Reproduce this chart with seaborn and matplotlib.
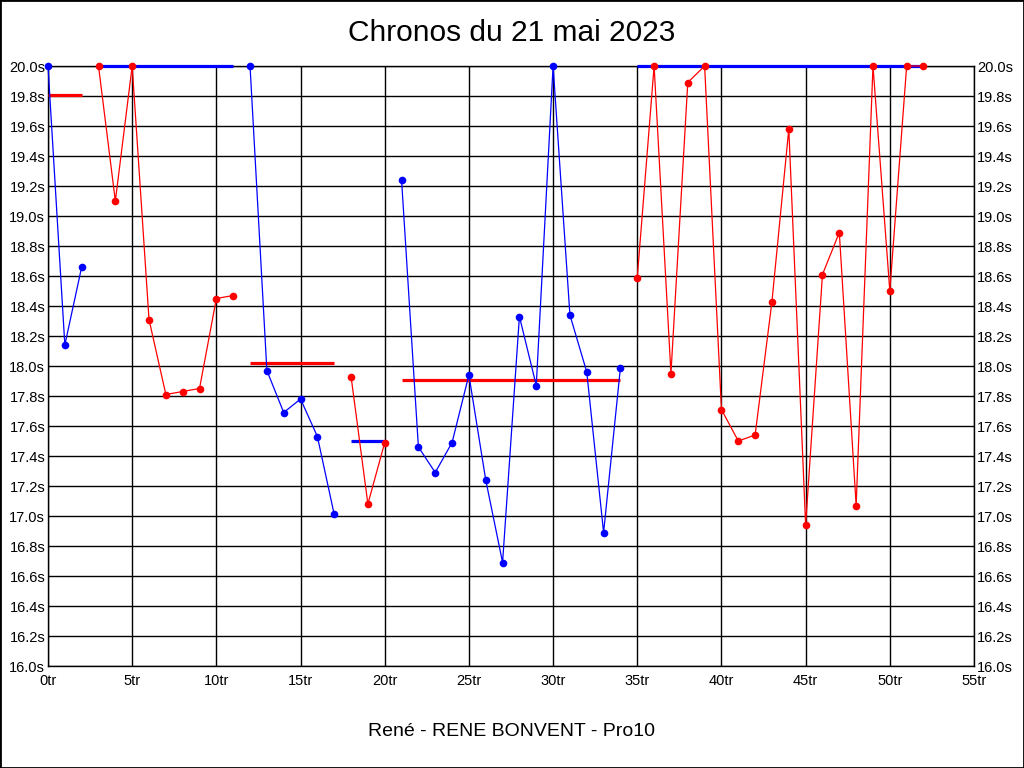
import matplotlib
matplotlib.use("Agg")
import matplotlib.pyplot as plt
from matplotlib.patches import Rectangle
import seaborn as sns
import pandas as pd
import numpy as np

# ---- data ----
laps = list(range(53))
times = [20.00, 18.14, 18.66,
         20.00, 19.10, 20.00, 18.31, 17.81, 17.83, 17.85, 18.45, 18.47,
         20.00, 17.97, 17.69, 17.78, 17.53, 17.01,
         17.93, 17.08, 17.49,
         19.24, 17.46, 17.29, 17.49, 17.94, 17.24, 16.69, 18.33, 17.87, 20.00,
         18.34, 17.96, 16.89, 17.99,
         18.59, 20.00, 17.95, 19.89, 20.00, 17.71, 17.50, 17.54, 18.43, 19.58,
         16.94, 18.61, 18.89, 17.07, 20.00, 18.50, 20.00, 20.00]
seg_start = [0, 3, 12, 18, 21, 35]
seg_end = [2, 11, 17, 20, 34, 52]
seg_color = ["blue", "red", "blue", "red", "blue", "red"]
ref_value = [19.81, 20.00, 18.02, 17.50, 17.91, 20.00]
ref_color = ["red", "blue", "red", "blue", "red", "blue"]

x_ticks = list(range(0, 56, 5))
x_ticklabels = [f"{v}tr" for v in x_ticks]
y_ticks = [round(16.0 + 0.2 * i, 1) for i in range(21)]
y_ticklabels = [f"{v:.1f}s" for v in y_ticks]

title = "Chronos du 21 mai 2023"
xlabel = "René - RENE BONVENT - Pro10"

# ---- build frame ----
seg_id = []
for lap in laps:
    for i, (s, e) in enumerate(zip(seg_start, seg_end)):
        if s <= lap <= e:
            seg_id.append(i)
            break
df = pd.DataFrame({"lap": laps, "time": times, "seg": seg_id})
palette = {i: c for i, c in enumerate(seg_color)}

sns.set_theme(style="white")
plt.rcParams["font.family"] = ["Liberation Sans", "DejaVu Sans"]

fig = plt.figure(figsize=(10.24, 7.68), dpi=100)
ax = fig.add_axes([48 / 1024, 1 - 666 / 768, 926 / 1024, 600 / 768])

# reference lines
for s, e, v, c in zip(seg_start, seg_end, ref_value, ref_color):
    ax.plot([s, e], [v, v], color=c, lw=2.3, solid_capstyle="butt",
            zorder=3, clip_on=False)

sns.lineplot(data=df, x="lap", y="time", hue="seg", palette=palette,
             marker="o", markersize=5.5, markeredgewidth=0, linewidth=0.9,
             legend=False, ax=ax, zorder=4)
for ln in ax.lines:
    ln.set_clip_on(False)

ax.set_xlim(0, 55)
ax.set_ylim(16.0, 20.0)
ax.set_xticks(x_ticks)
ax.set_xticklabels(x_ticklabels)
ax.set_yticks(y_ticks)
ax.set_yticklabels(y_ticklabels)
ax.tick_params(axis="both", length=0, labelsize=10.5, colors="black")
ax.tick_params(axis="x", pad=6)
ax.tick_params(axis="y", pad=2, labelright=True)
ax.grid(True, color="black", linewidth=1.0)
ax.set_axisbelow(True)
for sp in ax.spines.values():
    sp.set_color("black")
    sp.set_linewidth(1.0)

ax.set_ylabel("")
ax.set_xlabel(xlabel, fontsize=14, color="black")
ax.xaxis.set_label_coords(0.5, (666 - 732) / 600)
ax.xaxis.label.set_va("center")
fig.text(0.5, 1 - 33 / 768, title, fontsize=21.5, color="black",
         ha="center", va="center")

fig.patches.append(Rectangle((0, 0), 1, 1, transform=fig.transFigure,
                             fill=False, edgecolor="black", linewidth=2))

fig.savefig("out.png", dpi=100, facecolor="white")
